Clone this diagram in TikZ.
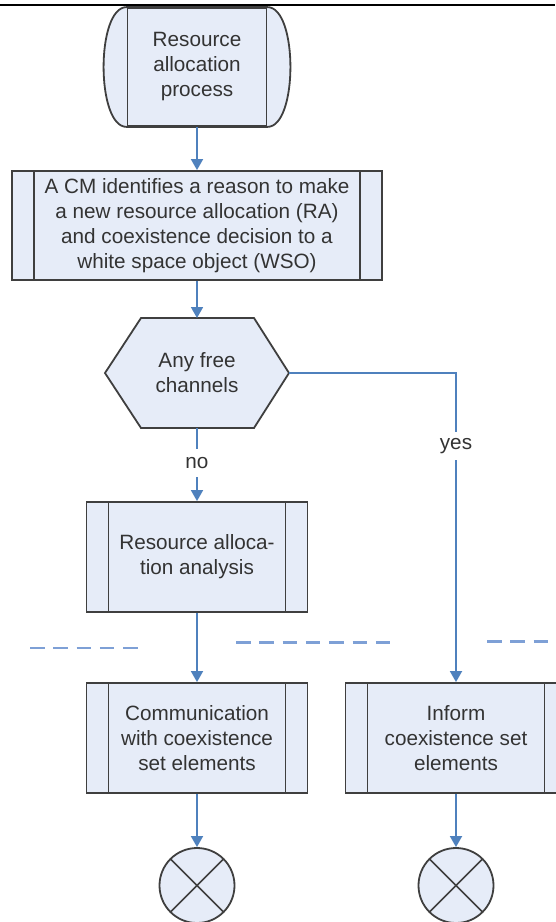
\documentclass[tikz,border=0pt]{standalone}
\usepackage{fontspec}
\setmainfont{Liberation Sans}
\usetikzlibrary{arrows.meta,calc,backgrounds}
\definecolor{boxfill}{HTML}{E6ECF8}
\definecolor{boxline}{HTML}{3F3F3F}
\definecolor{txtgray}{HTML}{333333}
\definecolor{connblue}{HTML}{4F81BD}
\definecolor{dashblue}{HTML}{7EA0D6}
\newcommand\dfont{\fontsize{20.7pt}{25pt}\selectfont}
\tikzset{
  every node/.style={font=\dfont, text=txtgray, align=center},
  procbox/.style={draw=boxline, line width=1.8pt, fill=boxfill,
    minimum width=#1, minimum height=110pt, inner sep=0pt,
    path picture={
      \draw[boxline, line width=1.8pt]
        ($(path picture bounding box.north west)+(22,0)$) -- ($(path picture bounding box.south west)+(22,0)$)
        ($(path picture bounding box.north east)+(-22,0)$) -- ($(path picture bounding box.south east)+(-22,0)$);
    }},
  shapeline/.style={draw=boxline, line width=1.8pt, fill=boxfill},
  endcirc/.style={circle, draw=boxline, line width=1.8pt, fill=boxfill,
    minimum size=75pt, inner sep=0pt,
    path picture={
      \draw[boxline, line width=1.5pt]
        (path picture bounding box.north west) -- (path picture bounding box.south east)
        (path picture bounding box.north east) -- (path picture bounding box.south west);
    }},
  flow/.style={draw=connblue, line width=1.8pt, -{Triangle[width=12pt,length=11pt]}},
  lbl/.style={fill=white, inner xsep=2pt},
  sepdash/.style={draw=dashblue, line width=2.5pt, dash pattern=on 14.5pt off 8.8pt},
}
\begin{document}
\begin{tikzpicture}[x=1pt, y=-1pt]
\useasboundingbox (0,0) rectangle (555,922);

% top border
\draw[black, line width=2.5pt] (0,5) -- (555,5);

% start node
\node[draw=boxline, line width=1.8pt, minimum width=139pt, minimum height=118pt, inner sep=0pt]
  (start) at (197,67) {Resource\\allocation\\process};
\begin{scope}[on background layer]
\filldraw[shapeline]
  (start.north west) .. controls ($(start.north west)+(-30.7,0)$) and ($(start.south west)+(-30.7,0)$) .. (start.south west)
  -- (start.south east) .. controls ($(start.south east)+(30.7,0)$) and ($(start.north east)+(30.7,0)$) .. (start.north east)
  -- cycle;
\end{scope}

% step 2
\node[procbox=370pt, minimum height=109pt] (box2) at (197,225.5)
  {A CM identifies a reason to make\\a new resource allocation (RA)\\and coexistence decision to a\\white space object (WSO)};

% decision hexagon
\node[minimum width=184pt, minimum height=110pt, inner sep=0pt, outer sep=0pt] (hex) at (197,373) {Any free\\channels};
\begin{scope}[on background layer]
\filldraw[shapeline]
  (hex.west) -- ($(hex.north west)+(36,0)$) -- ($(hex.north east)+(-35,0)$) -- (hex.east)
  -- ($(hex.south east)+(-35,0)$) -- ($(hex.south west)+(36,0)$) -- cycle;
\end{scope}

% process boxes
\node[procbox=221pt] (box3) at (197,557) {Resource alloca-\\tion analysis};
\node[procbox=221pt] (box4) at (197,738) {Communication\\with coexistence\\set elements};
\node[procbox=221pt] (box5) at (456,738) {Inform\\coexistence set\\elements};

% end circles
\node[endcirc] (end1) at (197,885.5) {};
\node[endcirc] (end2) at (456,885.5) {};

% dashed separators
\draw[sepdash] (30,648) -- (142,648);
\draw[sepdash] (236,642.5) -- (393,642.5);
\draw[sepdash] (487,641.5) -- (548,641.5);

% connectors
\draw[flow] (start.south) -- (box2.north);
\draw[flow] (box2.south) -- (hex.north);
\draw[flow] (hex.south) -- node[lbl, pos=0.48, inner ysep=8pt] {no} (box3.north);
\draw[flow] (hex.east) -| node[lbl, pos=0.618, inner ysep=6pt] {yes} (box5.north);
\draw[flow] (box3.south) -- (box4.north);
\draw[flow] (box4.south) -- (end1.north);
\draw[flow] (box5.south) -- (end2.north);
\end{tikzpicture}
\end{document}
